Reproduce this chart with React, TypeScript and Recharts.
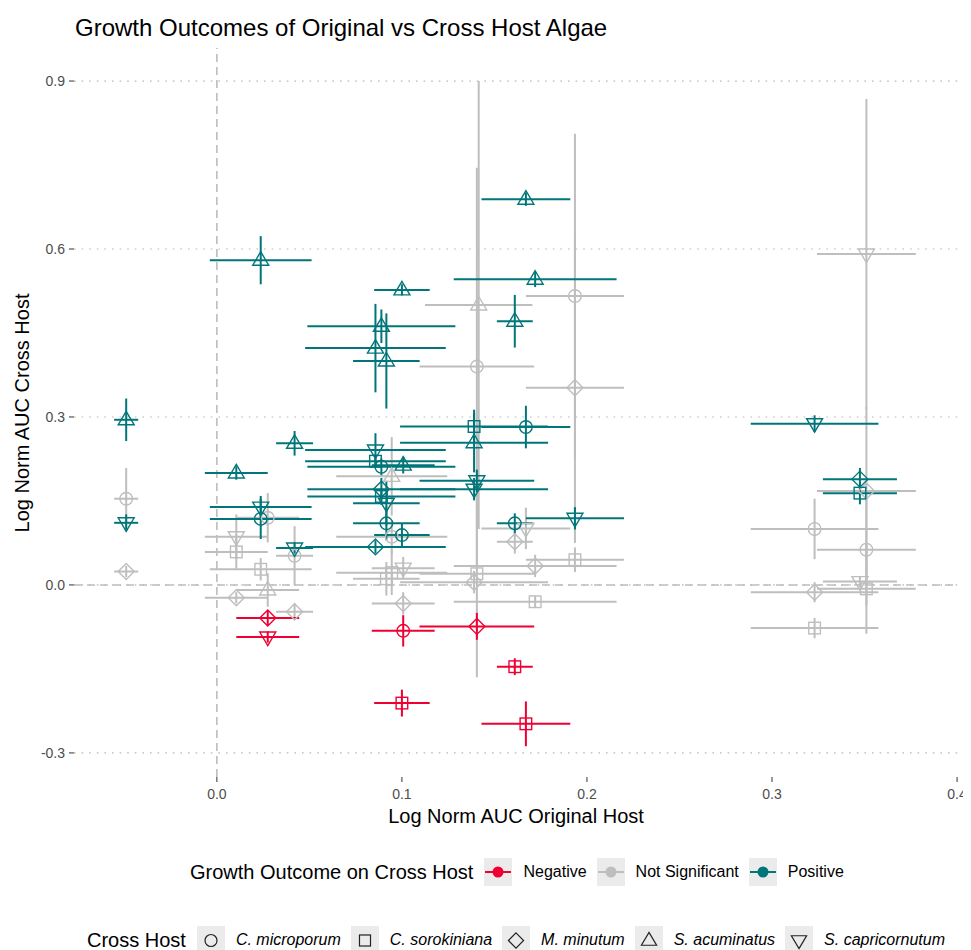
import React from 'react';
import { ScatterChart, Scatter, XAxis, YAxis, ErrorBar, ReferenceLine } from 'recharts';

// ---- Original host measurement groups (x value and its sd) ----
const originalHostX = [-0.049, 0.0105, 0.0237, 0.0275, 0.042, 0.0857, 0.0889, 0.0916, 0.0945, 0.1, 0.1007, 0.139, 0.1405, 0.1415, 0.161, 0.167, 0.172, 0.1935, 0.323, 0.3475, 0.351];
const originalHostSd = [0.0065, 0.017, 0.0275, 0.017, 0.01, 0.038, 0.04, 0.018, 0.03, 0.015, 0.017, 0.04, 0.031, 0.029, 0.0097, 0.024, 0.044, 0.0265, 0.0345, 0.02, 0.0267];

// ---- Cross host points ----
const pointGroup = [
  0, 0, 0, 0,
  1, 1, 1, 1,
  2, 2, 2, 2,
  3, 3, 3, 3,
  4, 4, 4, 4,
  5, 5, 5, 5,
  6, 6, 6, 6,
  7, 7, 7, 7,
  8, 8, 8,
  9, 9, 9,
  10, 10, 10, 10,
  11, 11, 11, 11,
  12, 12, 12, 12,
  13,
  14, 14, 14, 14,
  15, 15, 15, 15,
  16, 16, 16,
  17, 17, 17, 17,
  18, 18, 18, 18,
  19, 19, 19,
  20, 20, 20, 20,
];
const crossHostY = [
  0.295, 0.154, 0.111, 0.024,
  0.2, 0.086, 0.059, -0.023,
  0.58, 0.139, 0.118, 0.028,
  0.12, -0.009, -0.059, -0.093,
  0.253, 0.066, 0.052, -0.048,
  0.423, 0.241, 0.221, 0.068,
  0.462, 0.211, 0.171, 0.158,
  0.4, 0.146, 0.11, 0.011,
  0.194, 0.086, 0.022,
  0.527, 0.089, -0.211,
  0.214, 0.03, -0.033, -0.082,
  0.283, 0.254, 0.171, 0.005,
  0.39, 0.186, 0.02, -0.074,
  0.5,
  0.471, 0.11, 0.077, -0.146,
  0.689, 0.282, 0.101, -0.248,
  0.546, 0.034, -0.03,
  0.516, 0.352, 0.119, 0.045,
  0.288, 0.1, -0.013, -0.077,
  0.189, 0.164, 0.006,
  0.591, 0.168, 0.063, -0.007,
];
const crossHostSd = [
  0.038, 0.055, 0.015, 0.01,
  0.012, 0.04, 0.03, 0.01,
  0.043, 0.02, 0.036, 0.02,
  0.044, 0.03, 0.013, 0.01,
  0.022, 0.01, 0.053, 0.015,
  0.079, 0.03, 0.012, 0.012,
  0.03, 0.015, 0.02, 0.015,
  0.085, 0.04, 0.03, 0.03,
  0.07, 0.03, 0.04,
  0.01, 0.02, 0.024,
  0.015, 0.02, 0.02, 0.028,
  0.03, 0.053, 0.02, 0.02,
  0.355, 0.02, 0.185, 0.024,
  0.4,
  0.047, 0.018, 0.021, 0.015,
  0.012, 0.038, 0.037, 0.04,
  0.014, 0.02, 0.01,
  0.29, 0.277, 0.02, 0.022,
  0.015, 0.054, 0.018, 0.018,
  0.02, 0.02, 0.01,
  0.277, 0.15, 0.1, 0.08,
];
const pointOutcome = [
  'P', 'S', 'P', 'S',
  'P', 'S', 'S', 'S',
  'P', 'P', 'P', 'S',
  'S', 'S', 'N', 'N',
  'P', 'P', 'S', 'S',
  'P', 'P', 'P', 'P',
  'P', 'P', 'P', 'P',
  'P', 'P', 'P', 'S',
  'S', 'S', 'S',
  'P', 'P', 'N',
  'P', 'S', 'S', 'N',
  'P', 'P', 'P', 'S',
  'S', 'P', 'S', 'N',
  'S',
  'P', 'P', 'S', 'N',
  'P', 'P', 'S', 'N',
  'P', 'S', 'S',
  'S', 'S', 'P', 'S',
  'P', 'S', 'S', 'S',
  'P', 'P', 'S',
  'S', 'S', 'S', 'S',
];
const pointHost = [
  'SA', 'CM', 'SC', 'MM',
  'SA', 'SC', 'CS', 'MM',
  'SA', 'SC', 'CM', 'CS',
  'CM', 'SA', 'MM', 'SC',
  'SA', 'SC', 'CM', 'MM',
  'SA', 'SC', 'CS', 'MM',
  'SA', 'CM', 'MM', 'CS',
  'SA', 'SC', 'CM', 'CS',
  'SA', 'CM', 'CS',
  'SA', 'CM', 'CS',
  'SA', 'SC', 'MM', 'CM',
  'CS', 'SA', 'SC', 'MM',
  'CM', 'SC', 'CS', 'MM',
  'SA',
  'SA', 'CM', 'MM', 'CS',
  'SA', 'CM', 'SC', 'CS',
  'SA', 'MM', 'CS',
  'CM', 'MM', 'SC', 'CS',
  'SC', 'CM', 'MM', 'CS',
  'MM', 'CS', 'SC',
  'SC', 'MM', 'CM', 'CS',
];

const outcomeCodes = ['S', 'N', 'P'];
const outcomeNames: Record<string, string> = { N: 'Negative', S: 'Not Significant', P: 'Positive' };
const outcomeColors: Record<string, string> = { N: '#EE0033', S: '#BEBEBE', P: '#00767A' };
const legendOutcomes = ['N', 'S', 'P'];
const hostCodes = ['CM', 'CS', 'MM', 'SA', 'SC'];
const hostNames: Record<string, string> = {
  CM: 'C. microporum',
  CS: 'C. sorokiniana',
  MM: 'M. minutum',
  SA: 'S. acuminatus',
  SC: 'S. capricornutum',
};
const xTicks = [0, 0.1, 0.2, 0.3, 0.4];
const yTicks = [-0.3, 0, 0.3, 0.6, 0.9];

const rows = pointGroup.map((g, i) => ({
  x: originalHostX[g],
  ex: originalHostSd[g],
  y: crossHostY[i],
  ey: crossHostSd[i],
  outcome: pointOutcome[i],
  host: pointHost[i],
}));

const FONT = '"Liberation Sans", Arial, Helvetica, sans-serif';

function Marker({ host, cx, cy, color, sw = 1.4, s = 1 }: any) {
  const common = { fill: 'none', stroke: color, strokeWidth: sw };
  switch (host) {
    case 'CM':
      return <circle cx={cx} cy={cy} r={6.3 * s} {...common} />;
    case 'CS':
      return <rect x={cx - 5.8 * s} y={cy - 5.8 * s} width={11.6 * s} height={11.6 * s} {...common} />;
    case 'MM':
      return <path d={`M${cx},${cy - 8 * s}L${cx + 8 * s},${cy}L${cx},${cy + 8 * s}L${cx - 8 * s},${cy}Z`} {...common} />;
    case 'SA':
      return <path d={`M${cx},${cy - 8.5 * s}L${cx + 8 * s},${cy + 5 * s}L${cx - 8 * s},${cy + 5 * s}Z`} {...common} />;
    default:
      return <path d={`M${cx},${cy + 8.5 * s}L${cx + 8 * s},${cy - 5 * s}L${cx - 8 * s},${cy - 5 * s}Z`} {...common} />;
  }
}

const makeShape = (color: string) => (props: any) => {
  const host = props.payload?.host ?? props.host;
  return <Marker host={host} cx={props.cx} cy={props.cy} color={color} />;
};

const XTick = (props: any) => {
  const { x, y, payload } = props;
  return (
    <text x={x} y={y} dy={10} textAnchor="middle" fill="#4D4D4D" fontSize={14} style={{ fontSize: '14px', fontFamily: FONT }}>
      {Number(payload.value).toFixed(1)}
    </text>
  );
};

const YTick = (props: any) => {
  const { x, y, payload } = props;
  return (
    <text x={x} y={y} dy={5} textAnchor="end" fill="#4D4D4D" fontSize={14} style={{ fontSize: '14px', fontFamily: FONT }}>
      {Number(payload.value).toFixed(1)}
    </text>
  );
};

export default function App() {
  return (
    <div style={{ position: 'relative', width: 963, height: 942, fontFamily: FONT, color: '#000' }}>
      <style>{'html,body{overflow:hidden} #root{width:963px} .recharts-surface{overflow:visible} .recharts-wrapper{overflow:visible}'}</style>
      <div style={{ position: 'absolute', left: 67, top: 8, fontSize: 24, lineHeight: '24px', whiteSpace: 'nowrap' }}>
        Growth Outcomes of Original vs Cross Host Algae
      </div>
      <ScatterChart width={963} height={830} margin={{ top: 40, right: 13, bottom: 21, left: 0 }}>
        <XAxis
          type="number"
          dataKey="x"
          domain={[-0.0772, 0.4005]}
          ticks={xTicks}
          allowDataOverflow
          height={40}
          axisLine={false}
          tickSize={5}
          tickMargin={7}
          tickLine={{ stroke: '#333' }}
          tick={<XTick />}
        />
        <YAxis
          type="number"
          dataKey="y"
          domain={[-0.343, 0.959]}
          ticks={yTicks}
          allowDataOverflow
          width={66}
          axisLine={false}
          tickSize={5}
          tickMargin={4}
          tickLine={{ stroke: '#333' }}
          tick={<YTick />}
        />
        {yTicks.map((t) => (
          <ReferenceLine key={`g${t}`} y={t} stroke="#B8B8B8" strokeDasharray="1.6 6" strokeWidth={1.2} />
        ))}
        <ReferenceLine x={0} stroke="#BDBDBD" strokeWidth={1.6} strokeDasharray="8 5" />
        <ReferenceLine y={0} stroke="#BDBDBD" strokeWidth={1.6} strokeDasharray="8 5" />
        {outcomeCodes.map((code) => {
          const color = outcomeColors[code];
          return (
            <Scatter
              key={code}
              name={outcomeNames[code]}
              data={rows.filter((r) => r.outcome === code)}
              isAnimationActive={false}
              shape={makeShape(color)}
            >
              <ErrorBar dataKey="ex" direction="x" width={0} stroke={color} strokeWidth={2} isAnimationActive={false} />
              <ErrorBar dataKey="ey" direction="y" width={0} stroke={color} strokeWidth={2} isAnimationActive={false} />
            </Scatter>
          );
        })}
      </ScatterChart>
      <div style={{ position: 'absolute', left: 158, top: 796, width: 700, textAlign: 'center', fontSize: 20, lineHeight: '24px' }}>
        Log Norm AUC Original Host
      </div>
      <div
        style={{
          position: 'absolute',
          left: 14 - 200,
          top: 404.5 - 12,
          width: 400,
          textAlign: 'center',
          fontSize: 20,
          lineHeight: '24px',
          transform: 'rotate(-90deg)',
          transformOrigin: 'center center',
        }}
      >
        Log Norm AUC Cross Host
      </div>
      {/* Legend: outcome */}
      <div style={{ position: 'absolute', left: 182, top: 850, height: 28, display: 'flex', alignItems: 'center', whiteSpace: 'nowrap' }}>
        <span style={{ fontSize: 20, marginRight: 11 }}>Growth Outcome on Cross Host</span>
        {legendOutcomes.map((code) => (
          <React.Fragment key={code}>
            <svg width={28} height={28} style={{ display: 'block' }}>
              <rect x={0} y={0} width={28} height={28} fill="#EBEBEB" />
              <line x1={1} x2={27} y1={14} y2={14} stroke={outcomeColors[code]} strokeWidth={2} />
              <circle cx={14} cy={14} r={5.5} fill={outcomeColors[code]} />
            </svg>
            <span style={{ fontSize: 16, marginLeft: 11, marginRight: 10 }}>{outcomeNames[code]}</span>
          </React.Fragment>
        ))}
      </div>
      {/* Legend: host */}
      <div style={{ position: 'absolute', left: 79, top: 918, height: 28, display: 'flex', alignItems: 'center', whiteSpace: 'nowrap' }}>
        <span style={{ fontSize: 20, marginRight: 11 }}>Cross Host</span>
        {hostCodes.map((h) => (
          <React.Fragment key={h}>
            <svg width={28} height={28} style={{ display: 'block' }}>
              <rect x={0} y={0} width={28} height={28} fill="#EBEBEB" />
              <Marker host={h} cx={14} cy={14.5} color="#222" sw={1.2} s={0.95} />
            </svg>
            <span style={{ fontSize: 16, fontStyle: 'italic', marginLeft: 11, marginRight: 10 }}>{hostNames[h]}</span>
          </React.Fragment>
        ))}
      </div>
    </div>
  );
}
